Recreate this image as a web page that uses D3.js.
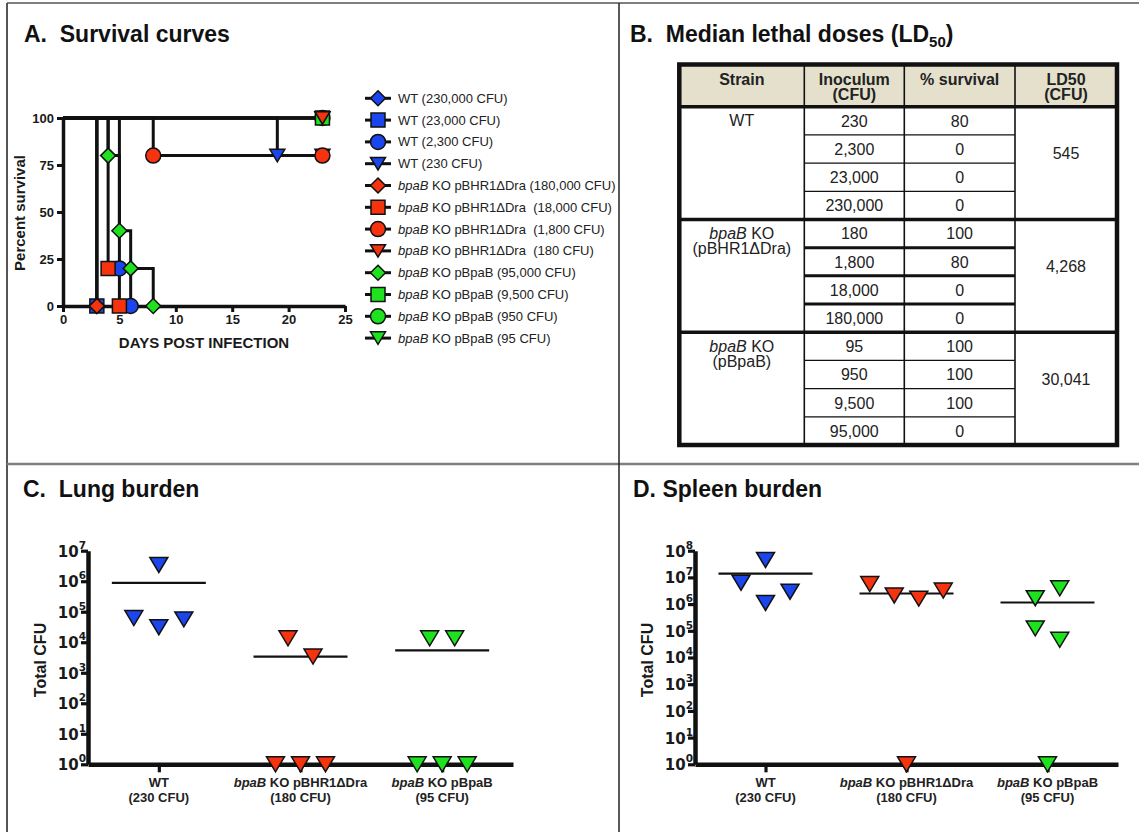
<!DOCTYPE html>
<html><head><meta charset="utf-8">
<script src="https://cdn.jsdelivr.net/npm/d3@7"></script>
<style>
body{margin:0;background:#fff;}
svg{display:block;font-family:"Liberation Sans",Arial,Helvetica,sans-serif;}
text{white-space:pre;}
</style></head><body>
<svg id="fig" width="1139" height="832"></svg>
<script>
// ---------- Panel A: Kaplan-Meier survival ----------
const survLabels = [
  "WT (230,000 CFU)", "WT (23,000 CFU)", "WT (2,300 CFU)", "WT (230 CFU)",
  "bpaB KO pBHR1ΔDra (180,000 CFU)", "bpaB KO pBHR1ΔDra  (18,000 CFU)",
  "bpaB KO pBHR1ΔDra  (1,800 CFU)", "bpaB KO pBHR1ΔDra  (180 CFU)",
  "bpaB KO pBpaB (95,000 CFU)", "bpaB KO pBpaB (9,500 CFU)",
  "bpaB KO pBpaB (950 CFU)", "bpaB KO pBpaB (95 CFU)"
];
const survStrain = [0,0,0,0, 1,1,1,1, 2,2,2,2];
const survDose   = [0,1,2,3, 0,1,2,3, 0,1,2,3];
const survDays = [
  [0,3], [0,3], [0,5,6], [0,19,23],
  [0,3], [0,4,5], [0,8,23], [0,23],
  [0,4,5,6,8], [0,23], [0,23], [0,23]
];
const survPct = [
  [100,0], [100,0], [100,20,0], [100,80,80],
  [100,0], [100,20,0], [100,80,80], [100,100],
  [100,80,40,20,0], [100,100], [100,100], [100,100]
];
const survXTicks = [0,5,10,15,20,25];
const survYTicks = [0,25,50,75,100];

// ---------- Panel B: LD50 table ----------
const ldHeaders  = [["Strain"], ["Inoculum","(CFU)"], ["% survival"], ["LD50","(CFU)"]];
const ldStrains  = [["WT"], ["bpaB KO","(pBHR1ΔDra)"], ["bpaB KO","(pBpaB)"]];
const ldInoculum = [[230,2300,23000,230000], [180,1800,18000,180000], [95,950,9500,95000]];
const ldSurvival = [[80,0,0,0], [100,80,0,0], [100,100,100,0]];
const ld50       = [545, 4268, 30041];

// ---------- Panels C & D: organ burden (total CFU per animal) ----------
const burdenGroups = [["WT","(230 CFU)"], ["bpaB KO pBHR1ΔDra","(180 CFU)"], ["bpaB KO pBpaB","(95 CFU)"]];
const lungCFU = [
  [3.4e6, 6.2e4, 3.1e4, 5.6e4],
  [1.35e4, 3.4e3, 1, 1, 1],
  [1.35e4, 1.35e4, 1, 1, 1]
];
const spleenCFU = [
  [4.5e7, 6.3e6, 1.1e6, 2.9e6],
  [5.6e6, 2.1e6, 1.6e6, 3.2e6, 1],
  [1.66e6, 3.9e6, 1.23e5, 4.6e4, 1]
];

// ---------- styling ----------
const strainColor = ["#1b46ee", "#f5330f", "#1fe21f"];
const ink = "#1a1a1a";
const svg = d3.select("#fig");

// figure frame and panel dividers
svg.append("line").attr("x1",7).attr("y1",3).attr("x2",1139).attr("y2",3).attr("stroke","#555").attr("stroke-width",1.5);
svg.append("line").attr("x1",7).attr("y1",3).attr("x2",7).attr("y2",832).attr("stroke","#555").attr("stroke-width",2);
svg.append("line").attr("x1",7).attr("y1",464).attr("x2",1139).attr("y2",464).attr("stroke","#808080").attr("stroke-width",2.5);
svg.append("line").attr("x1",619).attr("y1",3).attr("x2",619).attr("y2",832).attr("stroke","#222").attr("stroke-width",1.5);

function title(x, y, parts) {
  const t = svg.append("text").attr("x",x).attr("y",y).attr("font-size",23).attr("font-weight","bold").attr("fill","#111");
  parts.forEach(p => {
    const s = t.append("tspan").text(p.t);
    if (p.sub) s.attr("font-size",15).attr("dy",5);
    if (p.up) s.attr("dy",-5);
  });
}
title(24, 42, [{t:"A.  Survival curves"}]);
title(630, 42, [{t:"B.  Median lethal doses (LD"}, {t:"50", sub:true}, {t:")", up:true}]);
title(23, 497, [{t:"C.  Lung burden"}]);
title(633, 497, [{t:"D. Spleen burden"}]);

// symbol paths
const diamond = r => `M0,${-r}L${r},0L0,${r}L${-r},0Z`;
const square  = s => { const a = s/2; return `M${-a},${-a}H${a}V${a}H${-a}Z`; };
const circle  = r => `M${r},0A${r},${r} 0 1,1 ${-r},0A${r},${r} 0 1,1 ${r},0Z`;
const triDown = (w,h) => `M${-w/2},${-h/2}L${w/2},${-h/2}L0,${h/2}Z`;
const doseShape = [diamond(7.5), square(14), circle(7.5), triDown(15,12.5)];

// italic gene name at the start of a label
function richText(sel, str) {
  const m = str.match(/^(bpaB)(.*)$/);
  if (m) {
    sel.append("tspan").attr("font-style","italic").text(m[1]);
    sel.append("tspan").text(m[2]);
  } else sel.append("tspan").text(str);
}

// ===== Panel A =====
{
  const x = d3.scaleLinear().domain([0,25]).range([63,345]);
  const y = d3.scaleLinear().domain([0,100]).range([306,118]);
  const g = svg.append("g");

  const yAx = g.append("g").attr("transform","translate(63,0)")
    .call(d3.axisLeft(y).tickValues(survYTicks).tickSize(6).tickSizeOuter(0).tickPadding(3));
  const xAx = g.append("g").attr("transform","translate(0,306)")
    .call(d3.axisBottom(x).tickValues(survXTicks).tickSize(6).tickSizeOuter(0).tickPadding(3));
  [yAx,xAx].forEach(a => {
    a.select(".domain").attr("stroke","#111").attr("stroke-width",3.5);
    a.selectAll(".tick line").attr("stroke","#111").attr("stroke-width",3);
    a.selectAll(".tick text").attr("font-size",13).attr("font-weight","bold").attr("fill",ink).attr("font-family",null);
  });

  g.append("text").attr("x",204).attr("y",348).attr("text-anchor","middle")
    .attr("font-size",15).attr("font-weight","bold").attr("fill",ink).text("DAYS POST INFECTION");
  g.append("text").attr("transform","translate(25,213) rotate(-90)").attr("text-anchor","middle")
    .attr("font-size",15).attr("font-weight","bold").attr("fill",ink).text("Percent survival");

  const series = survLabels.map((lab,i) => ({i, pts: d3.zip(survDays[i], survPct[i])}));
  const step = d3.line().x(d => x(d[0])).y(d => y(d[1])).curve(d3.curveStepAfter);
  g.append("g").selectAll("path").data(series).join("path")
    .attr("d", d => step(d.pts)).attr("fill","none").attr("stroke","#111").attr("stroke-width",3);

  // markers: blue, then green, then red; within a strain, highest dose drawn last
  const order = [3,2,1,0, 11,10,9,8, 7,6,5,4];
  const mk = g.append("g");
  order.forEach(i => {
    series[i].pts.slice(1).forEach(p => {
      mk.append("path").attr("d", doseShape[survDose[i]])
        .attr("transform", `translate(${x(p[0])},${y(p[1])})`)
        .attr("fill", strainColor[survStrain[i]]).attr("stroke","#111").attr("stroke-width",1.5);
    });
  });

  // legend
  const lg = g.append("g");
  survLabels.forEach((lab,i) => {
    const ly = 98.3 + i*21.8;
    lg.append("line").attr("x1",365).attr("x2",391).attr("y1",ly).attr("y2",ly).attr("stroke","#111").attr("stroke-width",3);
    lg.append("path").attr("d", doseShape[survDose[i]]).attr("transform",`translate(378,${ly})`)
      .attr("fill", strainColor[survStrain[i]]).attr("stroke","#111").attr("stroke-width",1.5);
    const t = lg.append("text").attr("x",398).attr("y",ly+4.5).attr("font-size",13).attr("fill","#222");
    richText(t, lab);
  });
}

// ===== Panel B =====
{
  const colX = [679.3, 804.3, 904.3, 1015, 1117];
  const top = 64.5, headBot = 106.7, bottom = 445;
  const rows = d3.range(12);
  const ry = d3.scaleBand().domain(rows).range([headBot, bottom]);
  const rh = ry.bandwidth();
  const g = svg.append("g");
  const fmt = d3.format(",");

  g.append("rect").attr("x",colX[0]).attr("y",top).attr("width",colX[4]-colX[0]).attr("height",headBot-top).attr("fill","#e4e0cc");

  // sub-row rules inside the inoculum / survival columns
  ldInoculum.forEach((grp,gi) => {
    grp.forEach((v,ri) => {
      if (ri === 0) return;
      const yy = ry(gi*4+ri);
      g.append("line").attr("x1",colX[1]).attr("x2",colX[3]).attr("y1",yy).attr("y2",yy)
        .attr("stroke","#111").attr("stroke-width", gi === 1 ? 3 : 1.3);
    });
  });
  // column rules
  colX.slice(1,4).forEach(cx => g.append("line").attr("x1",cx).attr("x2",cx).attr("y1",top).attr("y2",bottom)
    .attr("stroke","#111").attr("stroke-width",1.6));
  // header and group rules
  g.append("line").attr("x1",colX[0]).attr("x2",colX[4]).attr("y1",headBot).attr("y2",headBot).attr("stroke","#111").attr("stroke-width",3.5);
  [1,2].forEach(gi => {
    const yy = ry(gi*4);
    g.append("line").attr("x1",colX[0]).attr("x2",colX[4]).attr("y1",yy).attr("y2",yy).attr("stroke","#111").attr("stroke-width",3.5);
  });
  g.append("rect").attr("x",colX[0]).attr("y",top).attr("width",colX[4]-colX[0]).attr("height",bottom-top)
    .attr("fill","none").attr("stroke","#111").attr("stroke-width",4.5);

  const mid = c => (colX[c]+colX[c+1])/2;
  ldHeaders.forEach((lines,c) => {
    lines.forEach((s,k) => g.append("text").attr("x",mid(c)).attr("y",top+20+k*15).attr("text-anchor","middle")
      .attr("font-size",16).attr("font-weight","bold").attr("fill","#222").text(s));
  });
  ldStrains.forEach((lines,gi) => {
    const gy = ry(gi*4);
    lines.forEach((s,k) => {
      const t = g.append("text").attr("x",mid(0)).attr("y",gy+19.5+k*15.5).attr("text-anchor","middle")
        .attr("font-size",16).attr("fill","#222");
      richText(t, s);
    });
    ldInoculum[gi].forEach((v,ri) => {
      const cy = ry(gi*4+ri) + rh/2 + 5.8;
      g.append("text").attr("x",mid(1)).attr("y",cy).attr("text-anchor","middle").attr("font-size",16).attr("fill","#222").text(fmt(v));
      g.append("text").attr("x",mid(2)).attr("y",cy).attr("text-anchor","middle").attr("font-size",16).attr("fill","#222").text(ldSurvival[gi][ri]);
    });
    g.append("text").attr("x",mid(3)).attr("y",gy+rh*1.8+2).attr("text-anchor","middle").attr("font-size",16).attr("fill","#222").text(fmt(ld50[gi]));
  });
}

// ===== Panels C & D =====
function burdenPanel(opts) {
  const {data, x0, x1, decades, labelX} = opts;
  const g = svg.append("g");
  const y = d3.scaleLog().domain([1, Math.pow(10,decades)]).range([764.3, 550.7]);
  const x = d3.scalePoint().domain(d3.range(data.length)).range([x0, x1]).padding(0.5);

  const yAx = g.append("g").attr("transform",`translate(${x0},0)`)
    .call(d3.axisLeft(y).tickValues(d3.range(decades+1).map(e => Math.pow(10,e))).tickSize(7).tickSizeOuter(0).tickPadding(3).tickFormat(""));
  const xAx = g.append("g").attr("transform","translate(0,764.3)")
    .call(d3.axisBottom(x).tickSize(8).tickSizeOuter(0).tickFormat(""));
  [yAx,xAx].forEach(a => {
    a.select(".domain").attr("stroke","#111").attr("stroke-width",4.5);
    a.selectAll(".tick line").attr("stroke","#111").attr("stroke-width",3.2);
  });
  yAx.selectAll(".tick text").each(function(d) {
    const t = d3.select(this).attr("font-size",15).attr("font-weight","bold").attr("fill",ink)
      .attr("font-family","'DejaVu Sans',sans-serif").attr("x",-2).attr("dy","0.36em");
    t.append("tspan").text("10");
    t.append("tspan").attr("font-size",10.5).attr("dy",-8).text(Math.round(Math.log10(d)));
  });

  g.append("text").attr("transform",`translate(${labelX},660) rotate(-90)`).attr("text-anchor","middle")
    .attr("font-size",16).attr("font-weight","bold").attr("fill",ink).text("Total CFU");

  burdenGroups.forEach((lines,ci) => {
    lines.forEach((s,k) => {
      const t = g.append("text").attr("x",x(ci)).attr("y",787+k*15).attr("text-anchor","middle")
        .attr("font-size",13).attr("font-weight","bold").attr("fill","#222");
      richText(t, s);
    });
  });

  data.forEach((vals,ci) => {
    // points of similar height share a row and are spread about the column centre
    const pts = vals.map((v,i) => ({v, i, py: y(v)}));
    const sorted = pts.slice().sort((a,b) => a.py - b.py || a.i - b.i);
    const groups = []; let cur = null, last = null;
    sorted.forEach(p => {
      if (cur && p.py - last < 20.5) cur.push(p); else { cur = [p]; groups.push(cur); }
      last = p.py;
    });
    groups.forEach(r => { r.sort((a,b) => a.i - b.i); r.forEach((p,k) => p.dx = (k - (r.length-1)/2) * opts.slot); });

    const m = d3.mean(vals);
    g.append("line").attr("x1",x(ci)-47).attr("x2",x(ci)+47).attr("y1",y(m)).attr("y2",y(m)).attr("stroke","#111").attr("stroke-width",2.2);
    pts.forEach(p => g.append("path").attr("d", triDown(18,15))
      .attr("transform",`translate(${x(ci)+p.dx},${p.py})`)
      .attr("fill", strainColor[ci]).attr("stroke","#111").attr("stroke-width",1.5));
  });
}
burdenPanel({data: lungCFU, x0: 88, x1: 513, decades: 7, labelX: 46, slot: 25});
burdenPanel({data: spleenCFU, x0: 695, x1: 1118, decades: 8, labelX: 653, slot: 24.5});
</script>
</body></html>
